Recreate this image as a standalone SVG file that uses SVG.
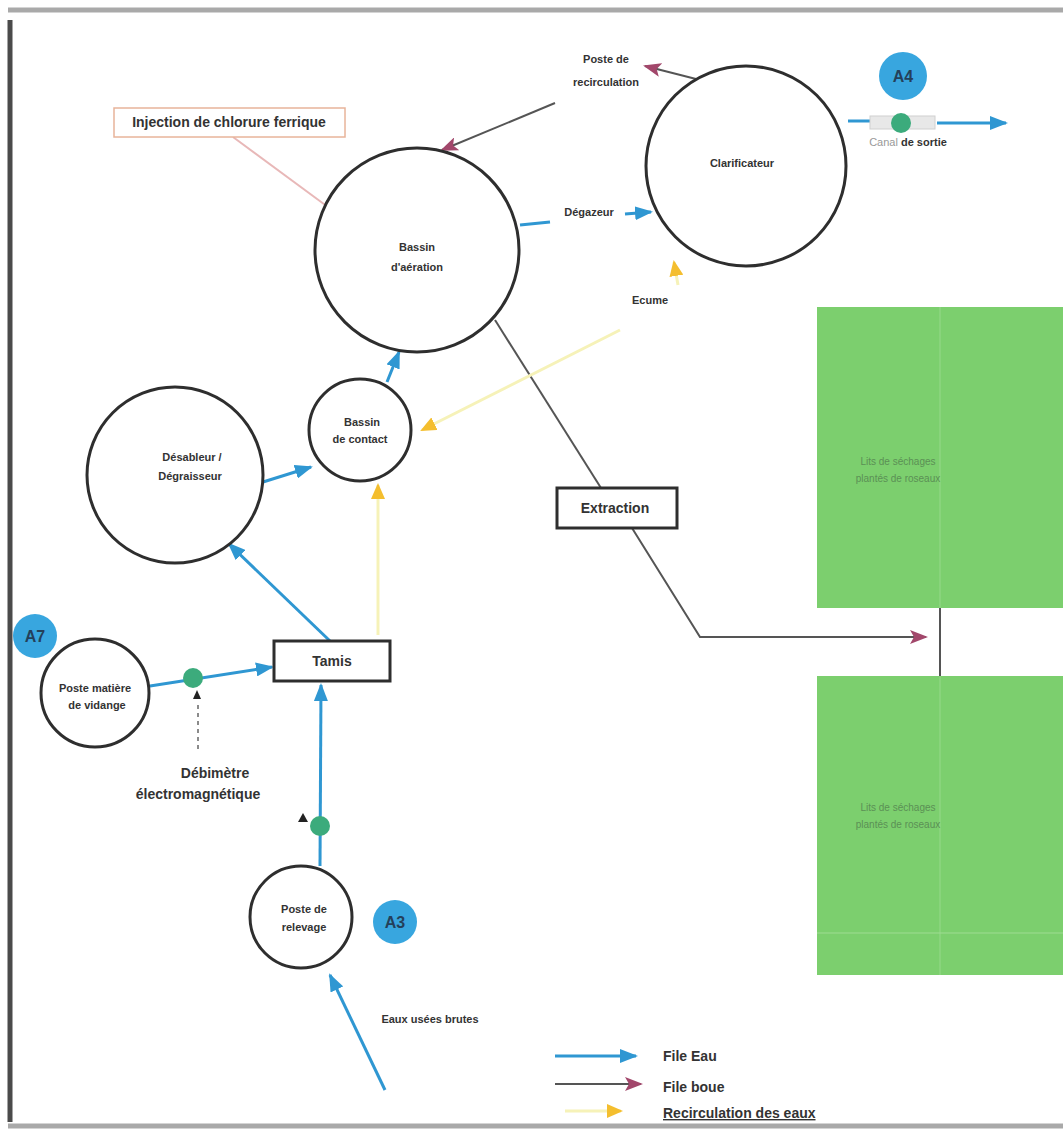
<svg xmlns="http://www.w3.org/2000/svg" width="1063" height="1133" viewBox="0 0 1063 1133">
<style>
.n{fill:#fff;stroke:#2e2e2e;stroke-width:3}
.t{font-family:"Liberation Sans",Arial,sans-serif;font-weight:bold;fill:#333;text-anchor:middle}
.s{font-size:11px}
.m{font-size:14px}
.w{stroke:#2f97d2;stroke-width:3;fill:none}
.b{stroke:#555;stroke-width:2;fill:none}
.y{stroke:#f6f2b8;stroke-width:3;fill:none}
.badge{fill:#38a6df}
.bt{font-family:"Liberation Sans",Arial,sans-serif;font-weight:bold;font-size:16px;fill:#24405a;text-anchor:middle}
.dot{fill:#3cab7c}
.g{fill:#7ccf6e}
.gt{font-family:"Liberation Sans",Arial,sans-serif;font-size:10px;fill:#5b8f55;text-anchor:middle}
</style>
<defs>
<marker id="aw" markerWidth="8" markerHeight="8" refX="7" refY="4" orient="auto" markerUnits="userSpaceOnUse" viewBox="0 0 8 8"><path d="M0,0 L8,4 L0,8 z" fill="#2f97d2"/></marker>
<marker id="aw2" markerWidth="18" markerHeight="14" refX="16" refY="7" orient="auto" markerUnits="userSpaceOnUse" viewBox="0 0 18 14"><path d="M0,0 L18,7 L0,14 z" fill="#2f97d2"/></marker>
<marker id="ab" markerWidth="18" markerHeight="14" refX="16" refY="7" orient="auto" markerUnits="userSpaceOnUse" viewBox="0 0 18 14"><path d="M0,0 L18,7 L0,14 L4,7 z" fill="#a2476b"/></marker>
<marker id="ay" markerWidth="16" markerHeight="14" refX="14" refY="7" orient="auto" markerUnits="userSpaceOnUse" viewBox="0 0 16 14"><path d="M0,0 L16,7 L0,14 z" fill="#f4be2e"/></marker>
</defs>

<rect width="1063" height="1133" fill="#fff"/>
<g id="frame">
<line x1="8" y1="10" x2="1063" y2="10" stroke="#a9a9a9" stroke-width="5"/>
<line x1="10" y1="20" x2="10" y2="1122" stroke="#4a4a4a" stroke-width="5"/>
<line x1="8" y1="1126" x2="1063" y2="1126" stroke="#a9a9a9" stroke-width="5"/>
</g>

<g id="connectors">
<!-- water -->
<line class="w" x1="385" y1="1090" x2="330" y2="975" marker-end="url(#aw2)"/>
<line class="w" x1="320" y1="866" x2="321" y2="685" marker-end="url(#aw2)"/>
<line class="w" x1="330" y1="641" x2="229" y2="544" marker-end="url(#aw2)"/>
<line class="w" x1="150" y1="686" x2="272" y2="667" marker-end="url(#aw2)" stroke="#6bb8e0"/>
<line class="w" x1="263" y1="482" x2="311" y2="467" marker-end="url(#aw2)"/>
<line class="w" x1="387" y1="382" x2="399" y2="352" marker-end="url(#aw2)"/>
<line class="w" x1="520" y1="225" x2="550" y2="222"/>
<line class="w" x1="625" y1="214" x2="651" y2="212" marker-end="url(#aw2)"/>
<line class="w" x1="848" y1="121" x2="870" y2="121"/>
<rect x="870" y="116" width="65" height="13" fill="#e8e8e8" stroke="#d0d0d0"/>
<line class="w" x1="937" y1="123" x2="1006" y2="123" marker-end="url(#aw2)" stroke="#5cb2de"/>
<!-- sludge -->
<line class="b" x1="700" y1="80" x2="645" y2="66" marker-end="url(#ab)"/>
<line class="b" x1="555" y1="103" x2="442" y2="150" marker-end="url(#ab)"/>
<line class="b" x1="495" y1="320" x2="601" y2="488"/>
<polyline class="b" points="632,528 700,637 926,637" marker-end="url(#ab)"/>
<line class="b" x1="940" y1="606" x2="940" y2="678" stroke="#444"/>
<!-- injection -->
<line x1="233" y1="137" x2="332" y2="210" stroke="#e8b8b8" stroke-width="2"/>
<circle cx="334" cy="212" r="3" fill="#e26b7e"/>
<!-- recirculation -->
<line class="y" x1="620" y1="330" x2="422" y2="430" marker-end="url(#ay)"/>
<line class="y" x1="678" y1="285" x2="674" y2="262" marker-end="url(#ay)"/>
<line class="y" x1="378" y1="635" x2="378" y2="485" marker-end="url(#ay)"/>
<!-- debimetre dashed -->
<line x1="198" y1="705" x2="198" y2="752" stroke="#666" stroke-width="1.5" stroke-dasharray="4,4"/>
<path d="M193,699 L197,690 L201,699 z" fill="#222"/>
<path d="M298,822 L303,813 L308,822 z" fill="#222"/>
</g>

<g id="n-aeration"><circle class="n" cx="417" cy="250" r="102"/>
<text class="t s" x="417" y="251">Bassin</text><text class="t s" x="417" y="271">d'aération</text></g>

<g id="n-clarificateur"><circle class="n" cx="746" cy="166" r="100"/>
<text class="t s" x="742" y="167">Clarificateur</text></g>

<g id="n-desableur"><circle class="n" cx="175" cy="475" r="88"/>
<text class="t s" x="192" y="461">Désableur /</text><text class="t s" x="190" y="480">Dégraisseur</text></g>

<g id="n-contact"><circle class="n" cx="360" cy="430" r="51"/>
<text class="t s" x="362" y="426">Bassin</text><text class="t s" x="360" y="443">de contact</text></g>

<g id="n-vidange"><circle class="n" cx="95" cy="693" r="54"/>
<text class="t s" x="95" y="692">Poste matière</text><text class="t s" x="97" y="709">de vidange</text></g>

<g id="n-relevage"><circle class="n" cx="301" cy="917" r="51"/>
<text class="t s" x="304" y="913">Poste de</text><text class="t s" x="304" y="931">relevage</text></g>

<g id="n-tamis"><rect x="274" y="641" width="116" height="40" fill="#fff" stroke="#2e2e2e" stroke-width="3"/>
<text class="t m" x="332" y="666">Tamis</text></g>

<g id="n-extraction"><rect x="557" y="488" width="120" height="40" fill="#fff" stroke="#2e2e2e" stroke-width="3"/>
<text class="t m" x="615" y="513">Extraction</text></g>

<g id="n-injection"><rect x="114" y="108" width="231" height="29" fill="#fff" stroke="#e8b49a" stroke-width="1.5"/>
<text class="t m" x="229" y="127">Injection de chlorure ferrique</text></g>

<g id="n-recirc"><text class="t s" x="606" y="63">Poste de</text><text class="t s" x="606" y="86">recirculation</text></g>

<g id="n-lits1"><rect class="g" x="817" y="307" width="246" height="301"/>
<line x1="940" y1="307" x2="940" y2="608" stroke="#8ed682" stroke-width="1.5"/>
<text class="gt" x="898" y="465">Lits de séchages</text><text class="gt" x="898" y="482">plantés de roseaux</text></g>

<g id="n-lits2"><rect class="g" x="817" y="676" width="246" height="299"/>
<line x1="940" y1="676" x2="940" y2="975" stroke="#8ed682" stroke-width="1.5"/>
<line x1="817" y1="933" x2="1063" y2="933" stroke="#9edc92" stroke-width="1"/>
<text class="gt" x="898" y="811">Lits de séchages</text><text class="gt" x="898" y="828">plantés de roseaux</text></g>

<g id="labels">
<text class="t s" x="589" y="216">Dégazeur</text>
<text class="t s" x="650" y="304">Ecume</text>
<text class="t s" x="908" y="146"><tspan fill="#999" font-weight="normal">Canal</tspan> de sortie</text>
<text class="t m" x="215" y="778">Débimètre</text>
<text class="t m" x="198" y="799">électromagnétique</text>
<text class="t s" x="430" y="1023">Eaux usées brutes</text>
</g>

<g id="sensors">
<circle class="dot" cx="901" cy="123" r="10"/>
<circle class="dot" cx="193" cy="678" r="10"/>
<circle class="dot" cx="320" cy="826" r="10"/>
</g>

<g id="badges">
<circle class="badge" cx="903" cy="76" r="24"/><text class="bt" x="903" y="82">A4</text>
<circle class="badge" cx="35" cy="636" r="22"/><text class="bt" x="35" y="642">A7</text>
<circle class="badge" cx="395" cy="922" r="22"/><text class="bt" x="395" y="928">A3</text>
</g>

<g id="legend">
<line class="w" x1="555" y1="1056" x2="636" y2="1056" marker-end="url(#aw2)"/>
<text class="t m" x="663" y="1061" text-anchor="start" style="text-anchor:start">File Eau</text>
<line class="b" x1="555" y1="1084" x2="641" y2="1084" marker-end="url(#ab)" stroke="#444" stroke-width="3"/>
<text class="t m" x="663" y="1092" style="text-anchor:start">File boue</text>
<line class="y" x1="565" y1="1111" x2="621" y2="1111" marker-end="url(#ay)"/>
<text class="t m" x="663" y="1118" style="text-anchor:start" text-decoration="underline">Recirculation des eaux</text>
</g>
</svg>
